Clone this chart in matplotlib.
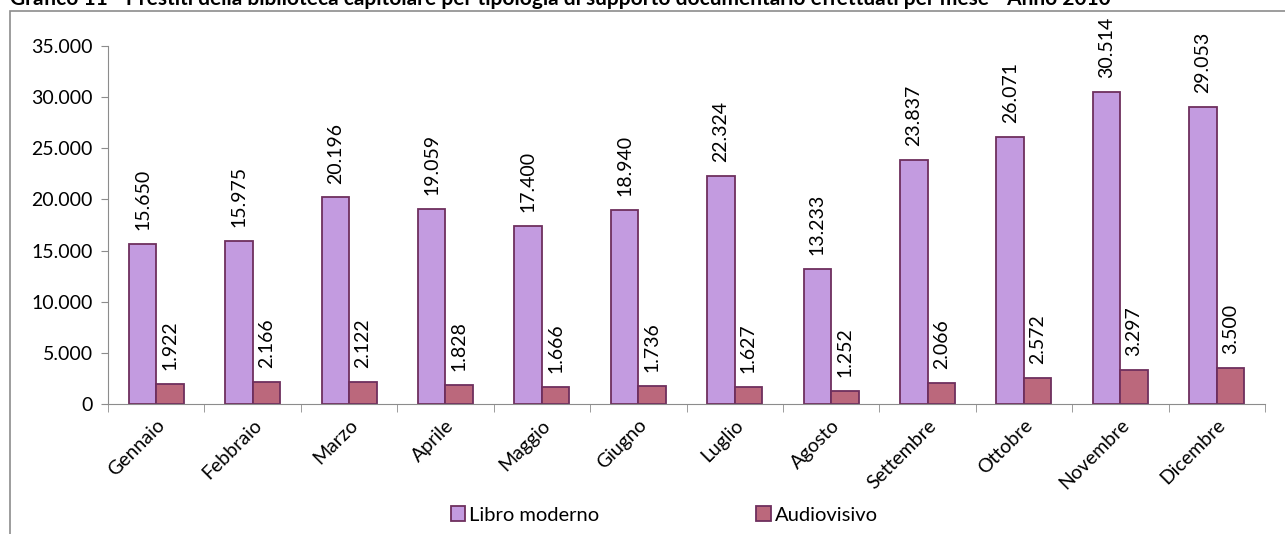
import numpy as np
import matplotlib.pyplot as plt
from matplotlib.patches import Rectangle
from matplotlib.ticker import FuncFormatter

plt.rcParams['font.family'] = ['Lato', 'DejaVu Sans']

mesi = ['Gennaio', 'Febbraio', 'Marzo', 'Aprile', 'Maggio', 'Giugno',
        'Luglio', 'Agosto', 'Settembre', 'Ottobre', 'Novembre', 'Dicembre']
libro_moderno = [15650, 15975, 20196, 19059, 17400, 18940,
                 22324, 13233, 23837, 26071, 30514, 29053]
audiovisivo = [1922, 2166, 2122, 1828, 1666, 1736,
               1627, 1252, 2066, 2572, 3297, 3500]


def fmt_it(v):
    # thousands separator with a dot, italian style
    return f'{int(v):,}'.replace(',', '.')


fig = plt.figure(figsize=(12.85, 5.34), dpi=100)
# outer chart frame, partly out of the picture
fig.patches.append(Rectangle((10 / 1285, -0.1), 1.2, 1 - 11 / 534 + 0.1,
                             transform=fig.transFigure, fill=False,
                             edgecolor='#8c8c8c', linewidth=1.2))
# title: only its lower part is visible in the original image
fig.text(0.008, 1 + 1 / 534, 'Grafico 11 - Prestiti della biblioteca capitolare per tipologia di supporto '
         'documentario effettuati per mese - Anno 2010',
         ha='left', va='center', fontsize=15, fontweight='bold')

ax = fig.add_axes([108 / 1285, 1 - 404 / 534, (1265 - 108) / 1285, (404 - 46) / 534])
x = np.arange(len(mesi))
w = 0.285
b1 = ax.bar(x - w / 2, libro_moderno, w, color='#c39be0', edgecolor='#6e2f5e',
            linewidth=1.3, label='Libro moderno')
b2 = ax.bar(x + w / 2, audiovisivo, w, color='#bb687c', edgecolor='#6e2f5e',
            linewidth=1.3, label='Audiovisivo')

for bars in (b1, b2):
    for r in bars:
        ax.annotate(fmt_it(r.get_height()), (r.get_x() + r.get_width() / 2, r.get_height()),
                    xytext=(0, 10), textcoords='offset points', rotation=90,
                    ha='center', va='bottom', fontsize=14)

ax.set_xlim(-0.5, len(mesi) - 0.5)
ax.set_ylim(0, 35000)
ax.set_yticks(np.arange(0, 35001, 5000))
ax.yaxis.set_major_formatter(FuncFormatter(lambda v, p: fmt_it(v)))
ax.set_xticks(x)
ax.set_xticklabels(mesi, rotation=45, ha='right', rotation_mode='anchor', fontsize=14)
ax.set_xticks(np.arange(-0.5, len(mesi)), minor=True)
ax.tick_params(axis='x', which='major', length=0, pad=9)
ax.tick_params(axis='x', which='minor', length=6, color='#8c8c8c')
ax.tick_params(axis='y', length=5, color='#8c8c8c', labelsize=14, pad=6)
for s in ['top', 'right']:
    ax.spines[s].set_visible(False)
for s in ['left', 'bottom']:
    ax.spines[s].set_color('#8c8c8c')

fig.legend(handles=[b1, b2], loc='center', bbox_to_anchor=(0.517, 1 - 515 / 534), ncol=2,
           frameon=False, fontsize=14.5, handlelength=0.7, handleheight=0.7,
           handletextpad=0.2, columnspacing=7.8)

fig.savefig('out.png', dpi=100)
